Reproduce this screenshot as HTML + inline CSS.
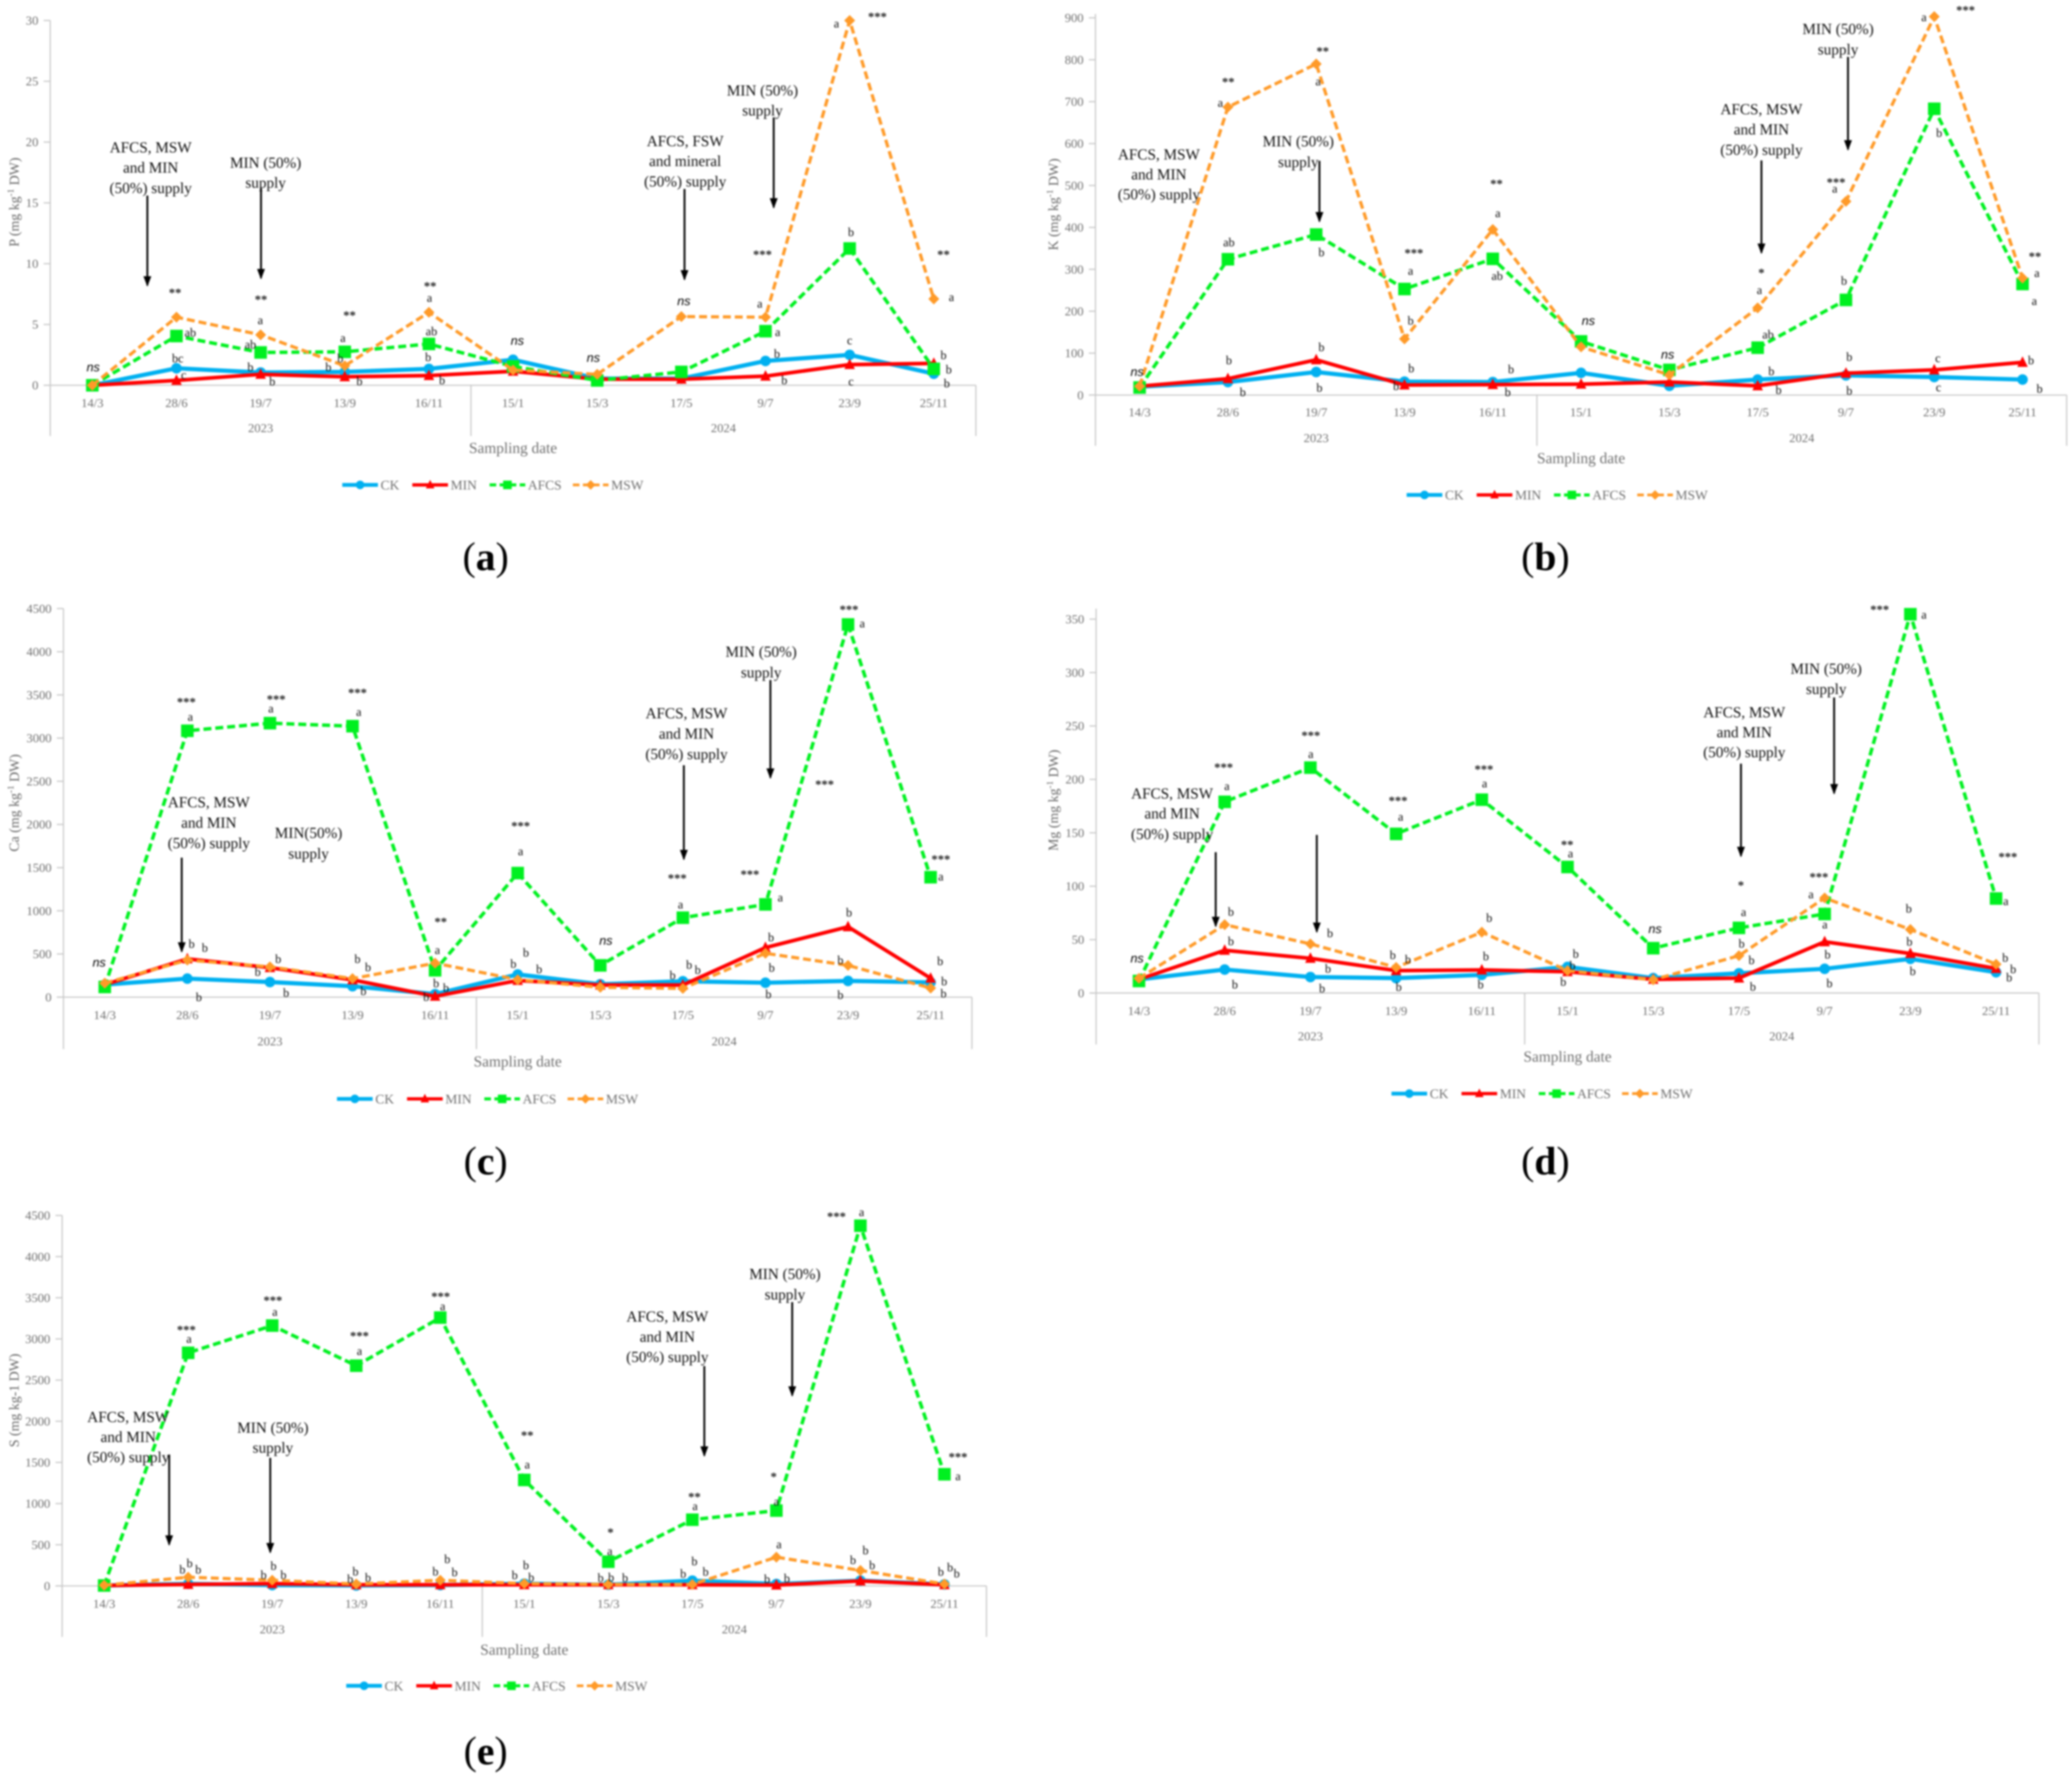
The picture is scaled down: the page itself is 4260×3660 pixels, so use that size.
<!DOCTYPE html>
<html lang="en">
<head>
<meta charset="utf-8">
<title>Nutrient concentration by sampling date</title>
<style>
html,body{margin:0;padding:0;background:#fff}
svg#figure{display:block;width:4260px;height:3660px;filter:blur(1.8px)}
text{font-family:"Liberation Serif",serif;dominant-baseline:central}
.l{font-size:9.2px;fill:#111;text-anchor:middle}
.s{font-size:9.5px;fill:#222;text-anchor:middle;font-weight:bold;transform:translateY(1.5px)}
.n{font-family:"Liberation Sans",sans-serif;font-size:9.5px;font-style:italic;fill:#000;text-anchor:middle}
.c{font-size:11.5px;fill:#111;text-anchor:middle}
.ar{stroke:#000;stroke-width:1.4;marker-end:url(#arrowhead)}
.yt{font-size:10.5px;fill:#666;text-anchor:middle}
.pl{font-size:30px;fill:#000;text-anchor:middle}
.t{font-size:9.5px;fill:#707070}
</style>
</head>
<body>
<svg id="figure" xmlns="http://www.w3.org/2000/svg" viewBox="0 0 1568 1347.2">
<defs><marker id="arrowhead" viewBox="0 0 8 6" refX="7" refY="3" markerWidth="8" markerHeight="6" markerUnits="userSpaceOnUse" orient="auto"><path d="M0 0L8 3L0 6z" fill="#000"/></marker></defs>

<g id="panel-a" transform="translate(0,0)">
<g id="plot-a"></g>
<text class="yt" transform="translate(11,153) rotate(-90)">P (mg kg<tspan dy="-3" font-size="7">-1</tspan><tspan dy="3"> DW)</tspan></text>
<text class="n" x="70.5" y="278">ns</text>
<text class="n" x="391.5" y="258">ns</text>
<text class="n" x="449" y="271">ns</text>
<text class="n" x="517.5" y="228">ns</text>
<text class="s" x="132.5" y="220">**</text>
<text class="s" x="197.5" y="225">**</text>
<text class="s" x="264.5" y="237">**</text>
<text class="s" x="325.5" y="215">**</text>
<text class="s" x="577" y="191">***</text>
<text class="s" x="664" y="11">***</text>
<text class="s" x="714" y="191">**</text>
<text class="l" x="144" y="252">ab</text>
<text class="l" x="134.5" y="271.5">bc</text>
<text class="l" x="139" y="284">c</text>
<text class="l" x="197" y="242.6">a</text>
<text class="l" x="189.5" y="261">ab</text>
<text class="l" x="189.5" y="278">b</text>
<text class="l" x="206" y="289">b</text>
<text class="l" x="259.5" y="256">a</text>
<text class="l" x="257.5" y="271.5">b</text>
<text class="l" x="248.5" y="278">b</text>
<text class="l" x="272" y="288.7">b</text>
<text class="l" x="325" y="225.7">a</text>
<text class="l" x="326.5" y="251">ab</text>
<text class="l" x="324" y="270.6">b</text>
<text class="l" x="334.5" y="288">b</text>
<text class="l" x="575" y="230">a</text>
<text class="l" x="588.5" y="251.5">a</text>
<text class="l" x="588" y="268">b</text>
<text class="l" x="593.5" y="288">b</text>
<text class="l" x="633" y="18">a</text>
<text class="l" x="644" y="176">b</text>
<text class="l" x="643" y="257.8">c</text>
<text class="l" x="644" y="289">c</text>
<text class="l" x="720" y="225">a</text>
<text class="l" x="714" y="269">b</text>
<text class="l" x="718" y="280">b</text>
<text class="l" x="716.5" y="290.4">b</text>
<text class="c"><tspan x="114" y="111.4">AFCS, MSW</tspan><tspan x="114" y="126.6">and MIN</tspan><tspan x="114" y="142">(50%) supply</tspan></text>
<line class="ar" x1="111.5" y1="148" x2="111.5" y2="216"/>
<text class="c"><tspan x="201" y="122.9">MIN (50%)</tspan><tspan x="201" y="138">supply</tspan></text>
<line class="ar" x1="197.5" y1="142.3" x2="197.5" y2="210.5"/>
<text class="c"><tspan x="518.5" y="106.5">AFCS, FSW</tspan><tspan x="518.5" y="121.7">and mineral</tspan><tspan x="518.5" y="137.2">(50%) supply</tspan></text>
<line class="ar" x1="518" y1="143" x2="518" y2="211.4"/>
<text class="c"><tspan x="577" y="68.2">MIN (50%)</tspan><tspan x="577" y="83.3">supply</tspan></text>
<line class="ar" x1="585.5" y1="88.8" x2="585.5" y2="157"/>
</g>

<g id="panel-b" transform="translate(784,0)">
<g id="plot-b"></g>
<text class="yt" transform="translate(13.5,154.7) rotate(-90)">K (mg kg<tspan dy="-3" font-size="7">-1</tspan><tspan dy="3"> DW)</tspan></text>
<text class="n" x="76.5" y="281.5">ns</text>
<text class="n" x="418" y="243">ns</text>
<text class="n" x="478" y="268.6">ns</text>
<text class="s" x="145.5" y="60.4">**</text>
<text class="s" x="217" y="37.2">**</text>
<text class="s" x="286" y="190">***</text>
<text class="s" x="348.5" y="137.5">**</text>
<text class="s" x="549" y="204.8">*</text>
<text class="s" x="605.5" y="136.3">***</text>
<text class="s" x="703.5" y="6">***</text>
<text class="s" x="756" y="192.5">**</text>
<text class="l" x="139.5" y="78">a</text>
<text class="l" x="146" y="183.6">ab</text>
<text class="l" x="146" y="273">b</text>
<text class="l" x="156.5" y="297">b</text>
<text class="l" x="213.5" y="61.9">a</text>
<text class="l" x="216" y="191.3">b</text>
<text class="l" x="216" y="263">b</text>
<text class="l" x="214.5" y="293.8">b</text>
<text class="l" x="283.5" y="205.3">a</text>
<text class="l" x="283.5" y="242.9">b</text>
<text class="l" x="284" y="279">b</text>
<text class="l" x="272.5" y="292.4">b</text>
<text class="l" x="349.5" y="161.5">a</text>
<text class="l" x="349" y="209">ab</text>
<text class="l" x="359.5" y="279.8">b</text>
<text class="l" x="357" y="297">b</text>
<text class="l" x="547.5" y="219.7">a</text>
<text class="l" x="554" y="253.5">ab</text>
<text class="l" x="556.5" y="281.2">b</text>
<text class="l" x="562" y="295.3">b</text>
<text class="l" x="604.5" y="143">a</text>
<text class="l" x="611.5" y="212.8">b</text>
<text class="l" x="615.5" y="270.4">b</text>
<text class="l" x="615.5" y="295.9">b</text>
<text class="l" x="672" y="13.2">a</text>
<text class="l" x="683.5" y="100.8">b</text>
<text class="l" x="682.5" y="271.2">c</text>
<text class="l" x="683" y="293.3">c</text>
<text class="l" x="757.5" y="206.8">a</text>
<text class="l" x="755.5" y="228">a</text>
<text class="l" x="753" y="273">b</text>
<text class="l" x="759.5" y="294.4">b</text>
<text class="c"><tspan x="93" y="116.6">AFCS, MSW</tspan><tspan x="93" y="131.7">and MIN</tspan><tspan x="93" y="146.9">(50%) supply</tspan></text>
<text class="c"><tspan x="198.5" y="106.8">MIN (50%)</tspan><tspan x="198.5" y="122.3">supply</tspan></text>
<line class="ar" x1="214.5" y1="121.7" x2="214.5" y2="167.5"/>
<text class="c"><tspan x="549" y="82.5">AFCS, MSW</tspan><tspan x="549" y="97.7">and MIN</tspan><tspan x="549" y="113.1">(50%) supply</tspan></text>
<line class="ar" x1="549" y1="121.4" x2="549" y2="191.3"/>
<text class="c"><tspan x="607" y="21.8">MIN (50%)</tspan><tspan x="607" y="37.2">supply</tspan></text>
<line class="ar" x1="614.5" y1="43" x2="614.5" y2="113.1"/>
</g>

<g id="panel-c" transform="translate(0,441.7)">
<g id="plot-c"></g>
<text class="yt" transform="translate(11,166) rotate(-90)">Ca (mg kg<tspan dy="-3" font-size="7">-1</tspan><tspan dy="3"> DW)</tspan></text>
<text class="n" x="75" y="287">ns</text>
<text class="n" x="458.5" y="270.4">ns</text>
<text class="s" x="141" y="87.9">***</text>
<text class="s" x="209" y="85.9">***</text>
<text class="s" x="270.5" y="81">***</text>
<text class="s" x="333.5" y="254.3">**</text>
<text class="s" x="394" y="181.9">***</text>
<text class="s" x="512.5" y="221.4">***</text>
<text class="s" x="567.5" y="218.5">***</text>
<text class="s" x="624" y="150.4">***</text>
<text class="s" x="642.5" y="18">***</text>
<text class="s" x="712" y="207">***</text>
<text class="l" x="144" y="101">a</text>
<text class="l" x="145" y="273">b</text>
<text class="l" x="155" y="275.8">b</text>
<text class="l" x="150.5" y="313.3">b</text>
<text class="l" x="205" y="94.8">a</text>
<text class="l" x="210.5" y="284.4">b</text>
<text class="l" x="195" y="294.1">b</text>
<text class="l" x="216.5" y="309.9">b</text>
<text class="l" x="271.5" y="97.4">a</text>
<text class="l" x="270.5" y="284.4">b</text>
<text class="l" x="278.5" y="290.7">b</text>
<text class="l" x="275" y="308.7">b</text>
<text class="l" x="331" y="277.5">a</text>
<text class="l" x="330" y="302.7">b</text>
<text class="l" x="337.5" y="306.2">b</text>
<text class="l" x="322.5" y="313">b</text>
<text class="l" x="394" y="202.8">a</text>
<text class="l" x="398" y="279.5">b</text>
<text class="l" x="388.5" y="288.1">b</text>
<text class="l" x="408" y="292.1">b</text>
<text class="l" x="515" y="243.2">a</text>
<text class="l" x="521.5" y="288.7">b</text>
<text class="l" x="528" y="292.7">b</text>
<text class="l" x="509" y="296.7">b</text>
<text class="l" x="590.5" y="237.7">a</text>
<text class="l" x="583.5" y="268">b</text>
<text class="l" x="584" y="291">b</text>
<text class="l" x="581.5" y="311">b</text>
<text class="l" x="652.5" y="30.4">a</text>
<text class="l" x="642.5" y="249.2">b</text>
<text class="l" x="636" y="285.3">b</text>
<text class="l" x="636" y="311.6">b</text>
<text class="l" x="712" y="222">a</text>
<text class="l" x="711.5" y="286.1">b</text>
<text class="l" x="714.5" y="301.3">b</text>
<text class="l" x="714" y="310.5">b</text>
<text class="c"><tspan x="158" y="165.3">AFCS, MSW</tspan><tspan x="158" y="180.7">and MIN</tspan><tspan x="158" y="196.2">(50%) supply</tspan></text>
<line class="ar" x1="137.5" y1="207.4" x2="137.5" y2="278.4"/>
<text class="c"><tspan x="233.5" y="188.5">MIN(50%)</tspan><tspan x="233.5" y="204.2">supply</tspan></text>
<text class="c"><tspan x="519.5" y="98">AFCS, MSW</tspan><tspan x="519.5" y="113.4">and MIN</tspan><tspan x="519.5" y="128.9">(50%) supply</tspan></text>
<line class="ar" x1="517.5" y1="137.5" x2="517.5" y2="208.5"/>
<text class="c"><tspan x="576" y="51.3">MIN (50%)</tspan><tspan x="576" y="67">supply</tspan></text>
<line class="ar" x1="583" y1="73" x2="583" y2="146.9"/>
</g>

<g id="panel-d" transform="translate(784,441.7)">
<g id="plot-d"></g>
<text class="yt" transform="translate(13.5,164) rotate(-90)">Mg (mg kg<tspan dy="-3" font-size="7">-1</tspan><tspan dy="3"> DW)</tspan></text>
<text class="n" x="76.5" y="283.8">ns</text>
<text class="n" x="468.5" y="261.5">ns</text>
<text class="s" x="142" y="137.5">***</text>
<text class="s" x="208" y="113.4">***</text>
<text class="s" x="274" y="162.7">***</text>
<text class="s" x="339" y="138.9">***</text>
<text class="s" x="402" y="195.9">**</text>
<text class="s" x="533.5" y="226.8">*</text>
<text class="s" x="592.5" y="220.5">***</text>
<text class="s" x="638.5" y="18">***</text>
<text class="s" x="735.5" y="205.1">***</text>
<text class="l" x="144.5" y="153.5">a</text>
<text class="l" x="147.5" y="248.6">b</text>
<text class="l" x="147.5" y="270.9">b</text>
<text class="l" x="150.5" y="303.6">b</text>
<text class="l" x="208" y="129.2">a</text>
<text class="l" x="222.5" y="264.9">b</text>
<text class="l" x="221" y="291.8">b</text>
<text class="l" x="216.5" y="306.7">b</text>
<text class="l" x="276" y="176.7">a</text>
<text class="l" x="270" y="281.5">b</text>
<text class="l" x="281.5" y="284.7">b</text>
<text class="l" x="274.5" y="305.6">b</text>
<text class="l" x="339.5" y="151.5">a</text>
<text class="l" x="343" y="253.2">b</text>
<text class="l" x="340.5" y="282.4">b</text>
<text class="l" x="336.5" y="303.6">b</text>
<text class="l" x="404.5" y="204.5">a</text>
<text class="l" x="408.5" y="280.4">b</text>
<text class="l" x="406" y="289.3">b</text>
<text class="l" x="399" y="301.6">b</text>
<text class="l" x="535.5" y="248.9">a</text>
<text class="l" x="534" y="272.7">b</text>
<text class="l" x="541.5" y="285.3">b</text>
<text class="l" x="542.5" y="305.3">b</text>
<text class="l" x="586.5" y="235.4">a</text>
<text class="l" x="597" y="258.3">a</text>
<text class="l" x="599" y="281">b</text>
<text class="l" x="600.5" y="302.7">b</text>
<text class="l" x="672" y="23.8">a</text>
<text class="l" x="660.5" y="246.3">b</text>
<text class="l" x="661" y="271.2">b</text>
<text class="l" x="663.5" y="293.6">b</text>
<text class="l" x="734" y="240.6">a</text>
<text class="l" x="733.5" y="283.5">b</text>
<text class="l" x="739.5" y="292.1">b</text>
<text class="l" x="736.5" y="298.4">b</text>
<text class="c"><tspan x="103" y="158.7">AFCS, MSW</tspan><tspan x="103" y="173.8">and MIN</tspan><tspan x="103" y="189.3">(50%) supply</tspan></text>
<line class="ar" x1="136" y1="203.3" x2="136" y2="259.2"/>
<line class="ar" x1="212.5" y1="190.2" x2="212.5" y2="263.5"/>
<text class="c"><tspan x="536" y="97.1">AFCS, MSW</tspan><tspan x="536" y="112.3">and MIN</tspan><tspan x="536" y="127.4">(50%) supply</tspan></text>
<line class="ar" x1="533.5" y1="136.3" x2="533.5" y2="206.2"/>
<text class="c"><tspan x="598" y="64.2">MIN (50%)</tspan><tspan x="598" y="79.6">supply</tspan></text>
<line class="ar" x1="604" y1="86.2" x2="604" y2="158.7"/>
</g>

<g id="panel-e" transform="translate(0,898.1)">
<g id="plot-e"></g>
<text class="yt" transform="translate(11,161.8) rotate(-90)">S (mg kg-1 DW)</text>
<text class="s" x="141" y="106.8">***</text>
<text class="s" x="206.5" y="84.5">***</text>
<text class="s" x="272" y="111.4">***</text>
<text class="s" x="333.5" y="81.6">***</text>
<text class="s" x="399" y="186.7">**</text>
<text class="s" x="462" y="260">*</text>
<text class="s" x="525.5" y="233.1">**</text>
<text class="s" x="585.5" y="218">*</text>
<text class="s" x="633" y="20.9">***</text>
<text class="s" x="725" y="203">***</text>
<text class="l" x="143" y="115.4">a</text>
<text class="l" x="138" y="290.1">b</text>
<text class="l" x="143.5" y="285.3">b</text>
<text class="l" x="150" y="290.1">b</text>
<text class="l" x="208" y="95">a</text>
<text class="l" x="199.5" y="294.1">b</text>
<text class="l" x="207" y="287.3">b</text>
<text class="l" x="214.5" y="294.1">b</text>
<text class="l" x="272" y="124.6">a</text>
<text class="l" x="265" y="297.3">b</text>
<text class="l" x="269" y="291.6">b</text>
<text class="l" x="278.5" y="296.1">b</text>
<text class="l" x="335" y="90.8">a</text>
<text class="l" x="329.5" y="291.6">b</text>
<text class="l" x="338.5" y="282.1">b</text>
<text class="l" x="344" y="292.1">b</text>
<text class="l" x="399" y="210.5">a</text>
<text class="l" x="389.5" y="294.4">b</text>
<text class="l" x="398" y="286.7">b</text>
<text class="l" x="402" y="295.9">b</text>
<text class="l" x="461.5" y="276.1">a</text>
<text class="l" x="454.5" y="296.4">b</text>
<text class="l" x="462.5" y="295.9">b</text>
<text class="l" x="473" y="296.4">b</text>
<text class="l" x="526" y="242">a</text>
<text class="l" x="525.5" y="283.8">b</text>
<text class="l" x="517" y="293.3">b</text>
<text class="l" x="534" y="291.8">b</text>
<text class="l" x="587.5" y="238.6">a</text>
<text class="l" x="589.5" y="270.9">a</text>
<text class="l" x="580.5" y="297.3">b</text>
<text class="l" x="595.5" y="296.7">b</text>
<text class="l" x="652" y="19.5">a</text>
<text class="l" x="655" y="275.5">b</text>
<text class="l" x="645.5" y="283">b</text>
<text class="l" x="660" y="286.7">b</text>
<text class="l" x="725" y="219.4">a</text>
<text class="l" x="712" y="291.8">b</text>
<text class="l" x="719" y="288.4">b</text>
<text class="l" x="724" y="293">b</text>
<text class="c"><tspan x="97" y="174.1">AFCS, MSW</tspan><tspan x="97" y="189.3">and MIN</tspan><tspan x="97" y="204.5">(50%) supply</tspan></text>
<line class="ar" x1="128" y1="202.8" x2="128" y2="270.9"/>
<text class="c"><tspan x="206.5" y="182.2">MIN (50%)</tspan><tspan x="206.5" y="197.3">supply</tspan></text>
<line class="ar" x1="204.5" y1="205.3" x2="204.5" y2="276.7"/>
<text class="c"><tspan x="505" y="98.2">AFCS, MSW</tspan><tspan x="505" y="113.4">and MIN</tspan><tspan x="505" y="128.6">(50%) supply</tspan></text>
<line class="ar" x1="533" y1="135.8" x2="533" y2="203.6"/>
<text class="c"><tspan x="594" y="65.9">MIN (50%)</tspan><tspan x="594" y="81.3">supply</tspan></text>
<line class="ar" x1="599.5" y1="87.4" x2="599.5" y2="158.1"/>
</g>

<text class="pl" x="367.5" y="421">(<tspan font-weight="bold">a</tspan>)</text>
<text class="pl" x="1169.5" y="421">(<tspan font-weight="bold">b</tspan>)</text>
<text class="pl" x="367.5" y="878.5">(<tspan font-weight="bold">c</tspan>)</text>
<text class="pl" x="1169.5" y="878.5">(<tspan font-weight="bold">d</tspan>)</text>
<text class="pl" x="367.5" y="1325">(<tspan font-weight="bold">e</tspan>)</text>
</svg>

<script>
const categories = ['14/3','28/6','19/7','13/9','16/11','15/1','15/3','17/5','9/7','23/9','25/11'];
const years = ['2023','2024'];
const seriesNames = ['CK','MIN','AFCS','MSW'];

const pTicks = [0,5,10,15,20,25,30];
const pCK = [0,1.4,1.05,1.1,1.35,2.1,0.55,0.55,2.0,2.5,0.95];
const pMIN = [0,0.4,0.9,0.7,0.8,1.15,0.5,0.5,0.75,1.7,1.8];
const pAFCS = [0,4.05,2.7,2.75,3.4,1.55,0.4,1.1,4.45,11.25,1.35];
const pMSW = [0,5.6,4.15,1.6,6.0,1.25,0.9,5.65,5.6,30,7.1];

const kTicks = [0,100,200,300,400,500,600,700,800,900];
const kCK = [20,31,55,32,31,53,22,37,47,43,37];
const kMIN = [21,39,84,24,25,26,31,22,52,60,78];
const kAFCS = [18,324,383,253,325,128,60,113,227,683,265];
const kMSW = [21,687,790,134,395,115,48,208,462,903,279];

const caTicks = [0,500,1000,1500,2000,2500,3000,3500,4000,4500];
const caCK = [145,215,175,127,35,263,149,184,167,188,171];
const caMIN = [145,443,342,200,10,193,140,140,574,815,219];
const caAFCS = [118,3085,3173,3138,311,1437,368,920,1074,4316,1389];
const caMSW = [162,429,351,215,394,202,114,101,508,368,105];

const mgTicks = [0,50,100,150,200,250,300,350];
const mgCK = [12.8,22,15,14,17,24.5,14,18.5,22.7,32,19.5];
const mgMIN = [12.8,40,32.5,21,21.6,20,12.8,14,48,37,23];
const mgAFCS = [11.3,179,211,149,181,118,42,61,74,354.6,88.5];
const mgMSW = [13.8,64,46,24,57,21,12.4,35,89,59.5,27];

const sTicks = [0,500,1000,1500,2000,2500,3000,3500,4000,4500];
const sCK = [5,25,10,5,10,27,14,64,23,64,18];
const sMIN = [5,18,28,14,14,14,14,14,10,60,14];
const sAFCS = [5,2831,3162,2675,3259,1287,294,804,915,4375,1356];
const sMSW = [8,106,69,23,69,28,18,18,349,188,23];

const NS = 'http://www.w3.org/2000/svg';
const AXIS = '#c8c8c8';
const seriesStyle = [
  {color:'#00b0f0', width:3.2, dash:null, shape:'circle', size:8},
  {color:'#ff0000', width:2.8, dash:null, shape:'triangle', size:8},
  {color:'#00f020', width:2.6, dash:'6 3', shape:'square', size:9.5},
  {color:'#ff9a28', width:2.4, dash:'6 3', shape:'diamond', size:7.5}
];

function mk(parent, tag, attrs, txt) {
  const e = document.createElementNS(NS, tag);
  for (const k in attrs) e.setAttribute(k, attrs[k]);
  if (txt !== undefined) e.textContent = txt;
  parent.appendChild(e);
  return e;
}

function marker(parent, shape, cx, cy, s, color) {
  if (shape === 'circle') return mk(parent, 'circle', {cx:cx, cy:cy, r:s/2, fill:color});
  if (shape === 'square') return mk(parent, 'rect', {x:cx-s/2, y:cy-s/2, width:s, height:s, fill:color});
  if (shape === 'triangle') return mk(parent, 'polygon', {points:[cx,cy-s/2-0.6, cx+s/2,cy+s/2-0.6, cx-s/2,cy+s/2-0.6].join(' '), fill:color});
  return mk(parent, 'polygon', {points:[cx,cy-s/2-0.4, cx+s/2+0.4,cy, cx,cy+s/2+0.4, cx-s/2-0.4,cy].join(' '), fill:color});
}

function drawPanel(id, g, ticks, series) {
  const root = document.getElementById('plot-' + id);
  const step = (g.right - g.left) / categories.length;
  const xAt = i => g.left + (i + 0.5) * step;
  const tickMax = ticks[ticks.length - 1];
  const yAt = v => g.y0 - (v / tickMax) * (g.y0 - g.yMax);
  const divider = xAt(4.5);

  const yAxis = mk(root, 'line', {x1:g.left, x2:g.left, y1:g.top, y2:g.bottom, stroke:AXIS, 'stroke-width':0.9});
  
  
  const xAxis = mk(root, 'line', {x1:g.left - 5, x2:g.right, y1:g.y0, y2:g.y0, stroke:AXIS, 'stroke-width':0.9});
  
  
  [divider, g.right].forEach(x => {
    const d = mk(root, 'line', {x1:x, x2:x, y1:g.y0, y2:g.bottom, stroke:AXIS, 'stroke-width':0.9});
    
    
  });

  ticks.forEach(v => {
    const tm = mk(root, 'line', {x1:g.left - 5, x2:g.left, y1:yAt(v), y2:yAt(v), stroke:AXIS, 'stroke-width':0.9});
    
    
    const tl = mk(root, 'text', {class:'t', x:g.left - 9, y:yAt(v), 'text-anchor':'end'}, String(v));
    
    
  });

  categories.forEach((c, i) => {
    const cl = mk(root, 'text', {class:'t', x:xAt(i), y:g.catY, 'text-anchor':'middle'}, c);
    
    
  });

  years.forEach((yr, i) => {
    const cx = i === 0 ? (g.left + divider) / 2 : (divider + g.right) / 2;
    const yl = mk(root, 'text', {class:'t', x:cx, y:g.yearY, 'text-anchor':'middle'}, yr);
    
    
  });

  const xt = mk(root, 'text', {class:'t', x:xAt(5), y:g.titleY, 'text-anchor':'middle', style:'font-size:11.6px'}, 'Sampling date');
  
  

  series.forEach((vals, s) => {
    const st = seriesStyle[s];
    const sg = mk(root, 'g', {});
    
    
    const pts = vals.map((v, i) => xAt(i).toFixed(2) + ',' + yAt(v).toFixed(2)).join(' ');
    const attrs = {points:pts, fill:'none', stroke:st.color, 'stroke-width':st.width, 'stroke-linejoin':'round'};
    if (st.dash) attrs['stroke-dasharray'] = st.dash;
    const ln = mk(sg, 'polyline', attrs);
    
    
    vals.forEach((v, i) => {
      const m = marker(sg, st.shape, xAt(i), yAt(v), st.size, st.color);
      
      
    });
  });

  const legendOffsets = [0, 53, 111.5, 174.5];
  seriesNames.forEach((name, s) => {
    const st = seriesStyle[s];
    const lx = g.legendX + legendOffsets[s];
    const lg = mk(root, 'g', {});
    
    
    const attrs = {x1:lx, x2:lx + 27, y1:g.legendY, y2:g.legendY, stroke:st.color, 'stroke-width':st.width - 0.3};
    if (st.dash) attrs['stroke-dasharray'] = '5 2.6';
    mk(lg, 'line', attrs);
    marker(lg, st.shape, lx + 13.5, g.legendY, 6.5, st.color);
    mk(lg, 'text', {class:'t', x:lx + 29, y:g.legendY, style:'font-size:10.2px'}, name);
  });
}

drawPanel('a', {left:38, right:738.5, top:15.5, yMax:15.5, y0:291.6, bottom:330, catY:305, yearY:324, titleY:339, legendX:259, legendY:367}, pTicks, [pCK, pMIN, pAFCS, pMSW]);
drawPanel('b', {left:45, right:780, top:10.6, yMax:13.5, y0:299, bottom:337.4, catY:312, yearY:331.4, titleY:346.8, legendX:280.5, legendY:374.6}, kTicks, [kCK, kMIN, kAFCS, kMSW]);
drawPanel('c', {left:48, right:735.5, top:18.9, yMax:18.9, y0:313, bottom:352.3, catY:326.5, yearY:346.3, titleY:361.7, legendX:255, legendY:390}, caTicks, [caCK, caMIN, caAFCS, caMSW]);
drawPanel('d', {left:45.5, right:759, top:18.9, yMax:26.9, y0:309.9, bottom:348.8, catY:323.3, yearY:342.5, titleY:358, legendX:269, legendY:386}, mgTicks, [mgCK, mgMIN, mgAFCS, mgMSW]);
drawPanel('e', {left:47, right:746.5, top:21.8, yMax:21.8, y0:302.2, bottom:340.8, catY:315.6, yearY:335, titleY:350.5, legendX:262, legendY:377.8}, sTicks, [sCK, sMIN, sAFCS, sMSW]);
</script>
</body>
</html>
